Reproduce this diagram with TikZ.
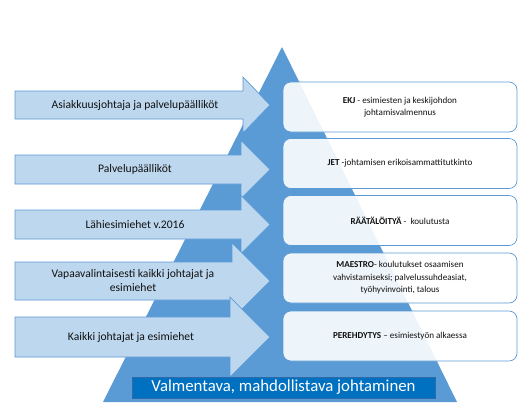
\documentclass[tikz,border=0pt]{standalone}
\usepackage{fontspec}
\setmainfont{Carlito}
\definecolor{tri}{HTML}{5B9BD5}
\definecolor{arrfill}{HTML}{BDD7EE}
\definecolor{arredge}{HTML}{5B9BD5}
\definecolor{boxedge}{HTML}{5B9BD5}
\definecolor{lblfill}{HTML}{0070C0}
\definecolor{lbledge}{HTML}{2E6AA8}
\definecolor{txt}{HTML}{111111}
\begin{document}
\begin{tikzpicture}[x=1pt,y=-1pt,
  arr/.style={fill=arrfill,draw=arredge,line width=0.7pt,line join=miter},
  arrtext/.style={font=\fontsize{11.6}{14}\selectfont,text=txt,align=center,inner sep=0pt},
  infobox/.style={draw=boxedge,line width=0.7pt,fill=white,fill opacity=0.9,text opacity=1,rounded corners=8pt,
    minimum width=234pt,minimum height=50pt,align=center,font=\fontsize{9.1}{12.5}\selectfont,text=txt,inner sep=2pt},
  lbl/.style={fill=lblfill,draw=lbledge,line width=0.7pt,minimum width=303pt,minimum height=21pt,inner sep=0pt,
    text=white,font=\fontsize{16.8}{18}\selectfont}]
\useasboundingbox (0,0) rectangle (527,416);
% pyramid
\fill[tri] (103,402) -- (282,47) -- (457,402) -- cycle;
% arrows
\draw[arr] (15,91) -- (243,91) -- (243,77) -- (270,105) -- (243,133) -- (243,119) -- (15,119) -- cycle;
\draw[arr] (15,155) -- (241,155) -- (241,140.5) -- (270,169.5) -- (241,198.5) -- (241,184) -- (15,184) -- cycle;
\draw[arr] (15,210) -- (241,210) -- (241,195.5) -- (270,224.5) -- (241,253.5) -- (241,239) -- (15,239) -- cycle;
\draw[arr] (15,262) -- (232,262) -- (232,243) -- (270,281) -- (232,319) -- (232,300) -- (15,300) -- cycle;
\draw[arr] (15,317) -- (230,317) -- (230,297) -- (270,337) -- (230,377) -- (230,357) -- (15,357) -- cycle;
\node[arrtext] (a1) at (135,105) {Asiakkuusjohtaja ja palvelupäälliköt};
\node[arrtext] (a2) at (135,169.5) {Palvelupäälliköt};
\node[arrtext] (a3) at (135,224.5) {Lähiesimiehet v.2016};
\node[arrtext] (a4) at (133,281) {Vapaavalintaisesti kaikki johtajat ja\\esimiehet};
\node[arrtext] (a5) at (131,337) {Kaikki johtajat ja esimiehet};
% boxes
\node[infobox] (b1) at (400,107) {\textbf{EKJ} - esimiesten ja keskijohdon\\johtamisvalmennus};
\node[infobox] (b2) at (400,163.5) {\textbf{JET} -johtamisen erikoisammattitutkinto};
\node[infobox] (b3) at (400,220.5) {\textbf{RÄÄTÄLÖITYÄ} -~~koulutusta};
\node[infobox] (b4) at (400,278) {\textbf{MAESTRO}- koulutukset osaamisen\\vahvistamiseksi; palvelussuhdeasiat,\\työhyvinvointi, talous};
\node[infobox] (b5) at (400,336) {\textbf{PEREHDYTYS} – esimiestyön alkaessa};
% label
\node[lbl] (lab) at (283.5,387.5) {Valmentava, mahdollistava johtaminen};
\end{tikzpicture}
\end{document}
